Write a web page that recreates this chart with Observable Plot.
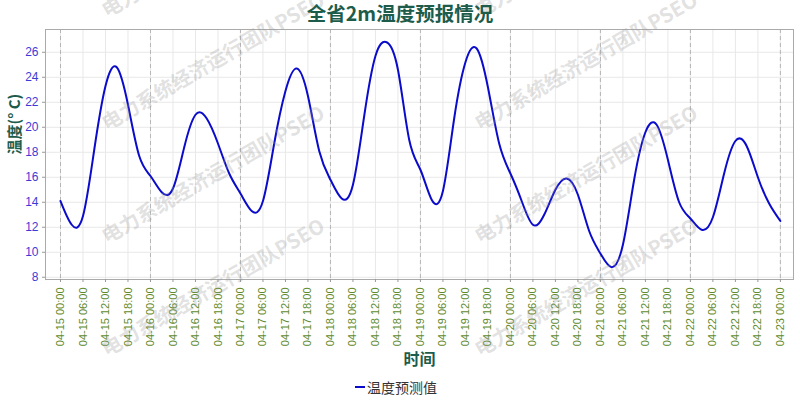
<!DOCTYPE html>
<html><head><meta charset="utf-8">
<script src="https://cdn.jsdelivr.net/npm/d3@7"></script>
<script src="https://cdn.jsdelivr.net/npm/@observablehq/plot@0.6"></script>
<style>
body{margin:0;background:#fff;}
#wrap{position:relative;width:800px;height:400px;overflow:hidden;font-family:"Noto Sans CJK SC","Noto Sans",sans-serif;}
#title{position:absolute;left:0;top:1px;width:800px;text-align:center;font-size:19.5px;font-weight:bold;color:#1d5c4b;line-height:24px;}
#legend{position:absolute;left:355px;top:377px;display:flex;align-items:center;font-size:14px;color:#333;}
#legend span.sw{display:inline-block;width:10px;height:2px;background:#0b0bcc;margin-right:2px;}
#wm{position:absolute;left:0;top:0;pointer-events:none;}
</style></head><body>
<div id="wrap"></div>
<script>
// ---- data ----
const titleText = "全省2m温度预报情况";
const yLabel = "温度(° C)";
const xLabel = "时间";
const seriesName = "温度预测值";
const watermarkText = "电力系统经济运行团队PSEO";
const startTime = "2024-04-15T00:00:00Z";
const stepHours = 3;
// 3-hourly forecast temperatures, 04-15 00:00 .. 04-23 00:00
const temps = [
  14.1, 12.2, 12.9, 18.2, 23.3, 24.8, 21.8, 17.7,
  16.1, 14.8, 15.1, 18.4, 21.0, 20.7, 18.7, 16.3,
  14.7, 13.3, 14.1, 18.7, 22.9, 24.7, 22.5, 18.1,
  15.8, 14.3, 15.4, 20.9, 25.7, 26.8, 24.6, 19.0,
  16.6, 14.2, 14.9, 20.7, 25.2, 26.3, 23.2, 18.7,
  16.3, 14.1, 12.2, 13.0, 15.0, 15.9, 14.6, 11.7,
   9.9,  8.8, 10.6, 15.8, 19.6, 20.2, 17.4, 14.0,
  12.7, 11.8, 12.8, 16.3, 18.9, 18.5, 16.0, 13.9,
  12.5
];
const yTicks = [8, 10, 12, 14, 16, 18, 20, 22, 24, 26];
const xTickHours = 6;

// ---- build ----
const H = 3600e3;
const t0 = Date.parse(startTime);
const data = temps.map((v, i) => ({t: new Date(t0 + i * stepHours * H), v}));
const tEnd = +data[data.length - 1].t;
const xTicks = d3.utcHour.every(xTickHours).range(new Date(t0), new Date(tEnd + 1));
const dayTicks = d3.utcDay.range(new Date(t0), new Date(tEnd + 1));

const chart = Plot.plot({
  width: 800, height: 400,
  marginTop: 29, marginBottom: 121, marginLeft: 45, marginRight: 7,
  x: {type: "utc", domain: [new Date(t0 - 4 * H), new Date(tEnd + 3.5 * H)]},
  y: {domain: [7.82, 27.82]},
  style: {fontFamily: "Liberation Sans, sans-serif", background: "transparent", overflow: "visible"},
  marks: [
    Plot.gridY(yTicks, {stroke: "#e8e8e8", strokeOpacity: 1}),
    Plot.gridX(xTicks, {stroke: "#e8e8e8", strokeOpacity: 1}),
    Plot.gridX(dayTicks, {stroke: "#b5b5b5", strokeOpacity: 1, strokeDasharray: "4,3"}),
    Plot.frame({stroke: "#aaa"}),
    Plot.axisY(yTicks, {tickSize: 3, tickPadding: 4, fill: "#3b3bd6", stroke: "#999", fontSize: 12, label: null}),
    Plot.axisX(xTicks, {tickSize: 3, tickPadding: 5, tickRotate: -90, tickFormat: d3.utcFormat("%m-%d %H:%M"),
      fill: "#5f8a2d", stroke: "#999", fontSize: 11, label: null}),
    Plot.line(data, {x: "t", y: "v", stroke: "#0b0bcc", strokeWidth: 2, curve: "natural"}),
    Plot.text([yLabel], {frameAnchor: "left", dx: -30, rotate: -90, fontSize: 15, fontWeight: "bold",
      fill: "#1d5c4b", fontFamily: "Noto Sans CJK SC"}),
    Plot.text([xLabel], {frameAnchor: "bottom", dy: 85, fontSize: 16, fontWeight: "bold",
      fill: "#1d5c4b", fontFamily: "Noto Sans CJK SC"})
  ]
});

const wrap = document.getElementById("wrap");
const title = document.createElement("div");
title.id = "title"; title.textContent = titleText;
wrap.appendChild(chart);
const legend = document.createElement("div");
legend.id = "legend";
legend.innerHTML = `<span class="sw"></span><span>${seriesName}</span>`;
wrap.appendChild(legend);

// watermark overlay (decoration)
const ns = "http://www.w3.org/2000/svg";
const wm = document.createElementNS(ns, "svg");
wm.setAttribute("id", "wm"); wm.setAttribute("width", 800); wm.setAttribute("height", 400);
for (const x0 of [107, 480]) {
  for (const y0 of [18, 131, 244, 357]) {
    const t = document.createElementNS(ns, "text");
    t.setAttribute("x", x0); t.setAttribute("y", y0);
    t.setAttribute("transform", `rotate(-30 ${x0} ${y0})`);
    t.setAttribute("font-size", 20);
    t.setAttribute("font-weight", "bold");
    t.setAttribute("font-family", "Noto Sans CJK SC");
    t.setAttribute("fill", "#999");
    t.setAttribute("fill-opacity", 0.3);
    t.textContent = watermarkText;
    wm.appendChild(t);
  }
}
wrap.appendChild(wm);
wrap.appendChild(title);
</script>
</body></html>
